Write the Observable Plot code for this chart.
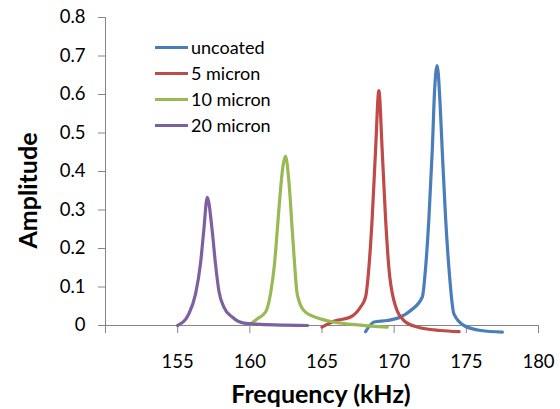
<!DOCTYPE html>
<html>
<head>
<meta charset="utf-8">
<script src="https://cdn.jsdelivr.net/npm/d3@7"></script>
<script src="https://cdn.jsdelivr.net/npm/@observablehq/plot@0.6"></script>
<style>
  html, body { margin: 0; padding: 0; background: #fff; }
  #wrap { position: relative; width: 560px; height: 409px; font-family: Lato, sans-serif; }
  #legend { position: absolute; left: 155px; top: 34px; }
  .row { display: flex; align-items: center; height: 26px; font-size: 18px; color: #000; }
  .sw { width: 33px; height: 3px; margin-right: 3px; }
</style>
</head>
<body>
<div id="wrap"><div id="legend"></div></div>
<script>
const seriesNames = ["uncoated", "5 micron", "10 micron", "20 micron"];
const seriesColors = ["#4A7EBB", "#BE4B48", "#98B954", "#7D60A0"];

const uncoatedFreq = [168.02,168.6,169.52,170.44,171.14,171.95,172.18,172.41,172.64,172.8,172.98,173.17,173.33,173.56,173.79,174.14,174.83,176.0,177.5];
const uncoatedAmp  = [-0.016,0.009,0.013,0.022,0.039,0.074,0.151,0.281,0.455,0.61,0.675,0.584,0.455,0.281,0.151,0.03,0.0,-0.013,-0.017];

const micron5Freq = [165.0,165.82,166.98,167.67,168.02,168.25,168.48,168.71,168.94,169.17,169.4,169.63,169.98,170.67,171.6,173.2,174.5];
const micron5Amp  = [-0.004,0.011,0.022,0.048,0.074,0.151,0.281,0.455,0.61,0.455,0.281,0.151,0.065,0.013,-0.004,-0.013,-0.016];

const micron10Freq = [160.05,160.5,161.09,161.43,161.71,161.9,162.08,162.3,162.47,162.7,162.94,163.1,163.28,163.74,164.67,165.8,167.67,169.52];
const micron10Amp  = [0.003,0.017,0.035,0.082,0.16,0.247,0.333,0.415,0.44,0.377,0.247,0.16,0.082,0.039,0.02,0.009,0.001,-0.004];

const micron20Freq = [155.0,155.77,156.24,156.58,156.81,157.05,157.39,157.62,157.85,158.2,158.78,159.59,160.74,162.36,164.0];
const micron20Amp  = [0.0,0.03,0.082,0.16,0.247,0.333,0.247,0.16,0.091,0.048,0.022,0.006,0.003,0.001,0.0];

const xTicks = [150, 155, 160, 165, 170, 175, 180];
const yTicks = [0, 0.1, 0.2, 0.3, 0.4, 0.5, 0.6, 0.7, 0.8];

const freqs = [uncoatedFreq, micron5Freq, micron10Freq, micron20Freq];
const amps = [uncoatedAmp, micron5Amp, micron10Amp, micron20Amp];
const rows = [];
seriesNames.forEach((s, i) => freqs[i].forEach((f, j) => rows.push({series: s, f, a: amps[i][j]})));

const axisGray = "#868686";

const chart = Plot.plot({
  width: 560,
  height: 409,
  marginLeft: 105,
  marginRight: 22,
  marginTop: 17,
  marginBottom: 84,
  style: {fontFamily: "Lato, sans-serif", fontSize: "18px", color: "#000", background: "transparent"},
  x: {domain: [150, 180]},
  y: {domain: [0, 0.8]},
  color: {domain: seriesNames, range: seriesColors},
  marks: [
    Plot.ruleY([0], {stroke: axisGray, strokeWidth: 1}),
    Plot.ruleX([150], {stroke: axisGray, strokeWidth: 1}),
    Plot.axisX({ticks: xTicks, tickSize: 8, tickPadding: 21, stroke: axisGray, fill: "#000", fontSize: 18.5,
      tickFormat: d => d === 150 ? "" : String(d), label: null}),
    Plot.axisY({ticks: yTicks, tickSize: 7, tickPadding: 13, stroke: axisGray, fill: "#000", fontSize: 18.5,
      tickFormat: d => d === 0 ? "0" : d.toFixed(1), label: null}),
    Plot.line(rows, {x: "f", y: "a", z: "series", stroke: "series", strokeWidth: 3.2, curve: "monotone-x"}),
    Plot.text(["Frequency (kHz)"], {frameAnchor: "bottom", textAnchor: "middle", lineAnchor: "middle", dx: -1, dy: 69, fontSize: 25, fontWeight: "bold", fill: "#000"}),
    Plot.text(["Amplitude"], {frameAnchor: "left", textAnchor: "middle", lineAnchor: "middle", rotate: -90, dx: -77, dy: 19, fontSize: 25, fontWeight: "bold", fill: "#000"})
  ]
});
document.getElementById("wrap").prepend(chart);

const legend = document.getElementById("legend");
seriesNames.forEach((s, i) => {
  const row = document.createElement("div");
  row.className = "row";
  const sw = document.createElement("span");
  sw.className = "sw";
  sw.style.background = seriesColors[i];
  const t = document.createElement("span");
  t.textContent = s;
  row.append(sw, t);
  legend.append(row);
});
</script>
</body>
</html>
